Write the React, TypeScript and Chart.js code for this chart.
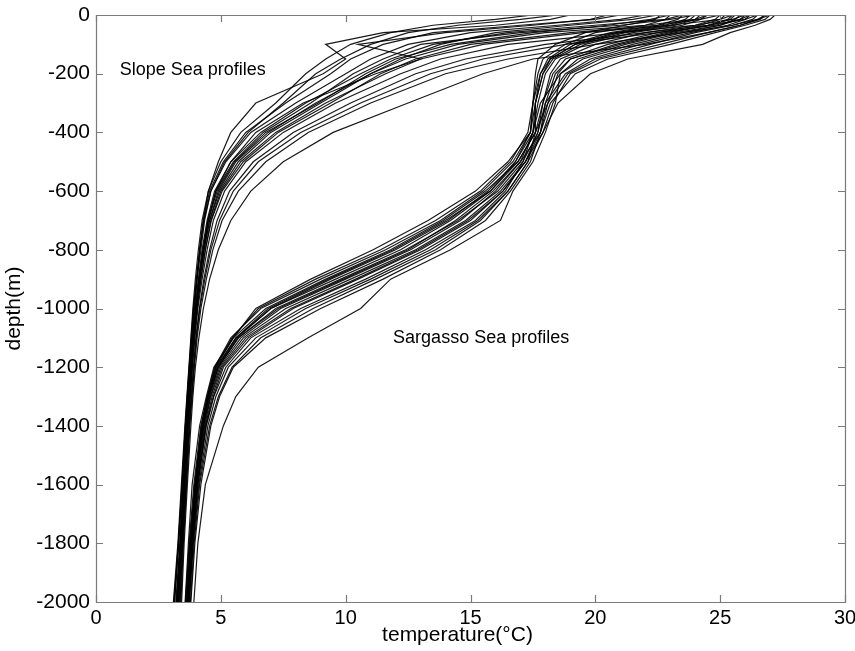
import { useEffect, useRef } from 'react';
import { Chart, registerables } from 'chart.js';

Chart.register(...registerables);

// depth levels (m) shared by every profile
const DEPTHS = [0, -15, -35, -60, -100, -150, -200, -300, -400, -500, -600, -700, -800, -900, -1000, -1100, -1200, -1300, -1400, -1600, -1800, -2000];

// Slope Sea temperature profiles (°C) at DEPTHS
const slope01 = [19.0, 18.2, 16.0, 11.5, 9.2, 10.0, 9.1, 6.4, 5.4, 4.9, 4.5, 4.3, 4.15, 4.05, 3.95, 3.86, 3.78, 3.7, 3.62, 3.5, 3.38, 3.25];
const slope02 = [20.5, 19.8, 17.5, 14.0, 10.5, 13.0, 11.2, 8.3, 6.4, 5.4, 4.8, 4.5, 4.3, 4.15, 4.0, 3.9, 3.8, 3.72, 3.64, 3.5, 3.36, 3.2];
const slope03 = [17.5, 16.0, 13.5, 11.8, 10.2, 9.2, 8.4, 7.2, 5.8, 5.0, 4.5, 4.25, 4.1, 3.98, 3.88, 3.8, 3.72, 3.64, 3.56, 3.42, 3.28, 3.1];
const slope04 = [22.0, 21.0, 18.5, 15.0, 12.5, 11.0, 10.0, 8.0, 6.2, 5.2, 4.6, 4.35, 4.2, 4.05, 3.92, 3.83, 3.75, 3.67, 3.6, 3.46, 3.32, 3.15];
const slope05 = [23.5, 22.8, 20.0, 16.5, 13.5, 11.8, 10.6, 8.4, 6.6, 5.4, 4.75, 4.45, 4.25, 4.1, 3.97, 3.87, 3.79, 3.71, 3.63, 3.5, 3.37, 3.22];
const slope06 = [24.5, 24.0, 22.0, 18.0, 14.5, 12.4, 11.0, 8.8, 6.9, 5.6, 4.9, 4.55, 4.32, 4.15, 4.02, 3.9, 3.82, 3.73, 3.66, 3.52, 3.4, 3.26];
const slope07 = [25.5, 25.0, 23.0, 19.5, 15.5, 13.0, 11.6, 9.2, 7.2, 5.8, 5.0, 4.6, 4.38, 4.2, 4.05, 3.93, 3.84, 3.76, 3.68, 3.55, 3.42, 3.3];
const slope08 = [26.0, 25.5, 24.0, 21.0, 16.5, 13.8, 12.2, 9.6, 7.5, 6.0, 5.15, 4.7, 4.45, 4.25, 4.08, 3.96, 3.86, 3.78, 3.7, 3.57, 3.45, 3.33];
const slope09 = [26.5, 26.0, 24.5, 22.0, 18.0, 14.8, 12.8, 10.2, 7.9, 6.3, 5.35, 4.85, 4.55, 4.32, 4.14, 4.0, 3.9, 3.81, 3.73, 3.6, 3.47, 3.36];
const slope10 = [27.0, 26.5, 25.5, 23.5, 20.0, 16.5, 14.0, 11.0, 8.5, 6.8, 5.7, 5.05, 4.68, 4.42, 4.2, 4.05, 3.94, 3.85, 3.76, 3.63, 3.5, 3.4];
const slope11 = [26.8, 26.5, 25.8, 24.5, 22.0, 17.5, 15.5, 12.5, 9.5, 7.5, 6.2, 5.4, 4.9, 4.55, 4.3, 4.12, 3.98, 3.88, 3.8, 3.66, 3.53, 3.43];
const slope12 = [24.0, 23.0, 21.0, 17.0, 13.0, 11.5, 10.3, 8.6, 6.7, 5.5, 4.8, 4.48, 4.28, 4.12, 3.99, 3.88, 3.8, 3.72, 3.65, 3.51, 3.38, 3.24];
const slope13 = [22.5, 21.5, 19.0, 16.0, 13.8, 12.2, 11.0, 9.0, 7.0, 5.7, 4.95, 4.55, 4.33, 4.16, 4.02, 3.91, 3.82, 3.74, 3.66, 3.53, 3.4, 3.28];
const slope14 = [25.0, 24.2, 22.5, 19.0, 15.0, 12.8, 11.4, 9.4, 7.3, 5.9, 5.05, 4.62, 4.38, 4.2, 4.05, 3.94, 3.85, 3.77, 3.69, 3.56, 3.43, 3.31];
const slope15 = [21.0, 20.0, 17.0, 13.5, 11.5, 10.2, 9.4, 7.6, 6.0, 5.1, 4.55, 4.3, 4.15, 4.02, 3.9, 3.81, 3.73, 3.65, 3.58, 3.45, 3.3, 3.12];
const slope16 = [26.2, 25.8, 24.8, 22.5, 18.8, 15.5, 13.4, 10.6, 8.2, 6.5, 5.5, 4.95, 4.6, 4.36, 4.16, 4.02, 3.92, 3.83, 3.74, 3.61, 3.48, 3.37];
const slope17 = [23.0, 22.2, 20.5, 17.5, 14.2, 12.0, 10.8, 8.9, 6.8, 5.55, 4.85, 4.5, 4.3, 4.13, 4.0, 3.89, 3.81, 3.73, 3.65, 3.52, 3.39, 3.23];
const slope18 = [18.5, 17.0, 14.5, 12.5, 11.0, 9.8, 8.8, 7.5, 6.1, 5.15, 4.6, 4.32, 4.16, 4.03, 3.92, 3.83, 3.74, 3.66, 3.58, 3.44, 3.3, 3.14];

// Sargasso Sea temperature profiles (°C) at DEPTHS
const sarg01 = [25.0, 24.8, 24.0, 22.0, 20.0, 18.6, 18.2, 17.9, 17.7, 17.2, 16.2, 14.8, 12.8, 10.2, 7.6, 5.9, 5.0, 4.6, 4.35, 4.05, 3.85, 3.7];
const sarg02 = [26.0, 25.8, 25.0, 23.5, 21.5, 19.5, 18.6, 17.8, 17.5, 16.8, 15.8, 14.2, 12.2, 9.6, 7.0, 5.6, 4.85, 4.5, 4.28, 4.0, 3.8, 3.66];
const sarg03 = [24.0, 23.8, 23.0, 21.0, 19.2, 18.2, 17.9, 17.6, 17.6, 17.3, 16.5, 15.3, 13.4, 11.0, 8.4, 6.4, 5.3, 4.8, 4.48, 4.12, 3.9, 3.74];
const sarg04 = [27.0, 26.8, 26.0, 24.8, 23.0, 20.5, 19.2, 18.2, 17.8, 17.0, 15.9, 14.4, 12.5, 9.9, 7.3, 5.7, 4.9, 4.55, 4.3, 4.02, 3.82, 3.68];
const sarg05 = [23.0, 22.8, 22.0, 20.0, 18.8, 17.9, 17.7, 17.5, 17.4, 16.7, 15.5, 13.8, 11.6, 9.0, 6.6, 5.4, 4.75, 4.45, 4.22, 3.95, 3.75, 3.6];
const sarg06 = [25.5, 25.3, 24.5, 23.0, 21.0, 19.0, 18.4, 18.0, 17.8, 17.4, 16.6, 15.6, 13.8, 11.5, 9.0, 6.8, 5.5, 4.95, 4.6, 4.2, 3.96, 3.8];
const sarg07 = [26.5, 26.3, 25.5, 24.0, 22.2, 20.0, 18.9, 18.1, 17.6, 16.9, 15.6, 13.9, 11.8, 9.2, 6.8, 5.5, 4.8, 4.48, 4.25, 3.98, 3.78, 3.63];
const sarg08 = [24.5, 24.2, 23.5, 21.5, 19.6, 18.4, 18.0, 17.7, 17.5, 17.0, 16.0, 14.6, 12.6, 10.0, 7.4, 5.8, 4.95, 4.58, 4.32, 4.04, 3.84, 3.69];
const sarg09 = [25.8, 25.6, 25.0, 23.2, 21.2, 19.3, 18.6, 18.4, 18.0, 17.5, 16.7, 16.2, 14.2, 11.8, 10.6, 8.5, 6.5, 5.6, 5.1, 4.38, 4.08, 3.92];
const sarg10 = [27.2, 27.0, 26.4, 25.4, 24.3, 21.3, 19.8, 18.5, 17.9, 17.2, 16.3, 15.0, 13.0, 10.5, 7.9, 6.1, 5.1, 4.7, 4.4, 4.08, 3.87, 3.72];
const sarg11 = [22.6, 22.4, 21.2, 19.6, 18.4, 17.7, 17.6, 17.5, 17.4, 16.5, 15.2, 13.3, 11.1, 8.6, 6.4, 5.5, 4.72, 4.42, 4.15, 3.85, 3.7, 3.57];
const sarg12 = [26.2, 26.0, 25.3, 23.8, 21.8, 19.8, 18.8, 18.0, 17.7, 17.1, 16.1, 14.5, 12.4, 9.8, 7.2, 5.7, 4.9, 4.52, 4.3, 4.0, 3.81, 3.67];
const sarg13 = [23.5, 23.3, 22.5, 20.6, 19.0, 18.1, 17.8, 17.6, 17.5, 17.1, 16.4, 15.2, 13.2, 10.8, 8.2, 6.2, 5.2, 4.72, 4.42, 4.08, 3.88, 3.73];
const sarg14 = [25.2, 25.0, 24.2, 22.5, 20.5, 18.8, 18.3, 17.9, 17.6, 16.9, 15.8, 14.0, 11.9, 9.3, 6.9, 5.6, 4.82, 4.48, 4.25, 3.97, 3.78, 3.64];
const sarg15 = [26.8, 26.6, 25.8, 24.5, 22.6, 20.2, 19.0, 18.3, 17.9, 17.3, 16.5, 15.4, 13.6, 11.2, 8.7, 6.6, 5.45, 4.9, 4.55, 4.15, 3.93, 3.78];
const sarg16 = [24.2, 24.0, 23.2, 21.2, 19.4, 18.3, 17.9, 17.6, 17.4, 16.8, 15.7, 14.1, 12.0, 9.4, 7.0, 5.65, 4.88, 4.5, 4.27, 3.98, 3.79, 3.65];
const sarg17 = [25.6, 25.4, 24.6, 22.8, 20.8, 19.0, 18.5, 18.1, 17.8, 17.2, 16.3, 14.9, 12.9, 10.4, 7.8, 6.0, 5.05, 4.65, 4.38, 4.06, 3.86, 3.71];
const sarg18 = [23.8, 23.6, 22.8, 20.8, 19.2, 18.2, 17.8, 17.5, 17.3, 16.6, 15.4, 13.6, 11.4, 8.8, 6.5, 5.45, 4.78, 4.46, 4.2, 3.92, 3.73, 3.58];

const SLOPE_PROFILES = [slope01, slope02, slope03, slope04, slope05, slope06, slope07, slope08, slope09, slope10, slope11, slope12, slope13, slope14, slope15, slope16, slope17, slope18];
const SARGASSO_PROFILES = [sarg01, sarg02, sarg03, sarg04, sarg05, sarg06, sarg07, sarg08, sarg09, sarg10, sarg11, sarg12, sarg13, sarg14, sarg15, sarg16, sarg17, sarg18];

// axes
const X_TICKS = [0, 5, 10, 15, 20, 25, 30];
const Y_TICKS = [0, -200, -400, -600, -800, -1000, -1200, -1400, -1600, -1800, -2000];
const X_TITLE = 'temperature(°C)';
const Y_TITLE = 'depth(m)';

// annotations (data coordinates: temperature, depth)
const LABEL_TEXTS = ['Slope Sea profiles', 'Sargasso Sea profiles'];
const LABEL_TEMPS = [0.95, 11.9];
const LABEL_DEPTHS = [-187, -1100];

const FONT = '"Liberation Sans", Arial, Helvetica, sans-serif';

const framePlugin = {
  id: 'frameTicks',
  afterDraw(chart: any) {
    const { ctx, chartArea } = chart;
    const { left, right, top, bottom } = chartArea;
    const xs = chart.scales.x;
    const ys = chart.scales.y;
    ctx.save();
    ctx.strokeStyle = '#7a7a7a';
    ctx.lineWidth = 1.2;
    ctx.beginPath();
    ctx.rect(Math.round(left) + 0.5, Math.round(top) + 0.5, Math.round(right - left), Math.round(bottom - top));
    ctx.stroke();
    const tl = 7;
    ctx.beginPath();
    X_TICKS.forEach((v) => {
      const px = Math.round(xs.getPixelForValue(v)) + 0.5;
      ctx.moveTo(px, bottom);
      ctx.lineTo(px, bottom - tl);
      ctx.moveTo(px, top);
      ctx.lineTo(px, top + tl);
    });
    Y_TICKS.forEach((v) => {
      const py = Math.round(ys.getPixelForValue(v)) + 0.5;
      ctx.moveTo(left, py);
      ctx.lineTo(left + tl, py);
      ctx.moveTo(right, py);
      ctx.lineTo(right - tl, py);
    });
    ctx.stroke();

    // annotations
    ctx.fillStyle = '#000';
    ctx.font = `18px ${FONT}`;
    ctx.textBaseline = 'middle';
    ctx.textAlign = 'left';
    LABEL_TEXTS.forEach((t, i) => {
      ctx.fillText(t, xs.getPixelForValue(LABEL_TEMPS[i]), ys.getPixelForValue(LABEL_DEPTHS[i]));
    });

    // x-axis title
    ctx.font = `21px ${FONT}`;
    ctx.textAlign = 'center';
    ctx.textBaseline = 'middle';
    ctx.fillText(X_TITLE, (left + right) / 2 - 13, bottom + 33);
    ctx.restore();
  },
};

export default function App() {
  const ref = useRef<HTMLCanvasElement | null>(null);
  useEffect(() => {
    document.body.style.margin = '0';
    const canvas = ref.current;
    if (!canvas) return;
    const datasets: any[] = [];
    [...SLOPE_PROFILES, ...SARGASSO_PROFILES].forEach((prof, i) => {
      datasets.push({
        label: i < SLOPE_PROFILES.length ? `slope ${i + 1}` : `sargasso ${i - SLOPE_PROFILES.length + 1}`,
        data: prof.map((t, k) => ({ x: t, y: DEPTHS[k] })),
        showLine: true,
        borderColor: 'rgba(0,0,0,0.9)',
        borderWidth: 1.2,
        pointRadius: 0,
        pointHoverRadius: 0,
        tension: 0,
        fill: false,
      });
    });
    const chart = new Chart(canvas, {
      type: 'scatter',
      data: { datasets },
      options: {
        responsive: false,
        animation: false,
        events: [],
        layout: { padding: { left: 0, right: 10, top: 15, bottom: 0 } },
        plugins: { legend: { display: false }, tooltip: { enabled: false } },
        scales: {
          x: {
            type: 'linear',
            min: 0,
            max: 30,
            afterFit: (s: any) => { s.height = 49; s.paddingLeft = 0; s.paddingRight = 0; },
            afterBuildTicks: (s: any) => { s.ticks = X_TICKS.map((v) => ({ value: v })); },
            grid: { display: false, drawTicks: false },
            border: { display: false },
            ticks: {
              color: '#000',
              padding: 4,
              maxRotation: 0,
              font: { family: FONT, size: 20 },
              callback: (v: any) => String(v),
            },
          },
          y: {
            type: 'linear',
            min: -2000,
            max: 0,
            afterFit: (s: any) => { s.width = 96; s.paddingTop = 0; s.paddingBottom = 0; },
            afterBuildTicks: (s: any) => { s.ticks = Y_TICKS.map((v) => ({ value: v })); },
            grid: { display: false, drawTicks: false },
            border: { display: false },
            title: {
              display: true,
              text: Y_TITLE,
              color: '#000',
              font: { family: FONT, size: 21 },
              padding: { top: 2, bottom: 0 },
            },
            ticks: {
              color: '#000',
              padding: 6,
              font: { family: FONT, size: 21 },
              callback: (v: any) => String(v),
            },
          },
        },
      },
      plugins: [framePlugin],
    });
    return () => chart.destroy();
  }, []);
  return (
    <div style={{ position: 'fixed', left: 0, top: 0, width: 855, height: 651, background: '#fff' }}>
      <canvas ref={ref} width={855} height={651} />
    </div>
  );
}
